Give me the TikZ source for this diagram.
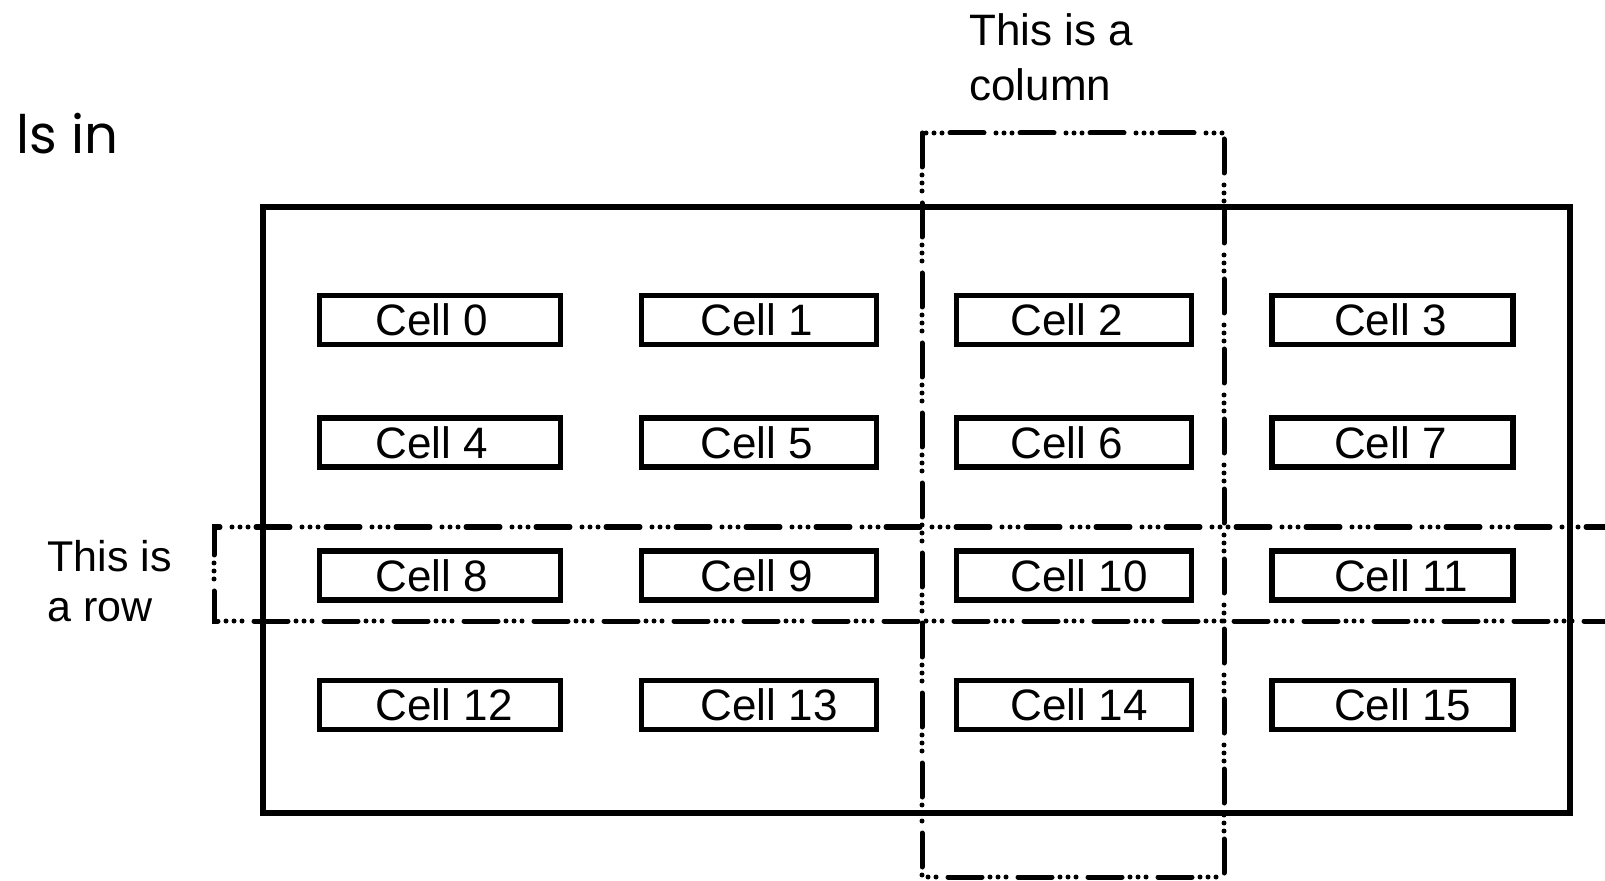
\documentclass[tikz,border=0pt]{standalone}
\usepackage{fontspec}
\setmainfont{Liberation Sans}
\newfontfamily\fragfont{Poppins}

\tikzset{
    cellbox/.style={draw, line width=2.6pt, minimum height=24.5pt, inner sep=0pt},
    celltext/.style={anchor=west, inner sep=0pt, font=\fontsize{22}{26}\selectfont},
    frame/.style={line width=2.6pt},
    selection/.style={line width=2.5pt, line cap=round,
        dash pattern=on 17pt off 4pt on 0pt off 4pt on 0pt off 4pt on 0pt off 6pt},
    note/.style={align=left, inner sep=0pt, anchor=north west},
}

\begin{document}
\begin{tikzpicture}[x=0.5pt, y=-0.5pt]
    \useasboundingbox (0,0) rectangle (1605,881);
    \clip (0,0) rectangle (1605,881);

    % cut-off heading at the left
    \node [anchor=base west, inner sep=0pt, font=\fragfont\fontsize{26.5}{32}\selectfont] (fragment) at (16,154) {ls in};

    % the table and its cells
    \draw [frame] (263,207) rectangle (1570,813);
    \foreach \c/\x/\w/\o in {0/440/120.5/63, 1/759/117.5/66, 2/1074/117.5/61, 3/1392.5/120.5/69}
        \foreach \r/\y in {0/320, 1/442.5, 2/575.5, 3/705} {
            \pgfmathtruncatemacro{\n}{4*\r+\c}
            \pgfmathsetmacro{\shift}{\o/2-2.3}
            \node [cellbox, minimum width=\w pt] (cell\n) at (\x,\y) {};
            \node [celltext] (celltxt\n) at ([xshift=\shift pt]cell\n.west) {Cell \n};
        }

    % a column and a row
    \draw [selection] (922,133) rectangle (1224,877);
    \draw [selection] (1620,527) -- (214,527) -- (214,621) -- (1620,621);

    \node [note, font=\fontsize{22}{27.5}\selectfont] (colnote) at (969,13) {This is a\\column};
    \node [note, font=\fontsize{21.5}{25}\selectfont] (rownote) at (47,540) {This is\\a row};
\end{tikzpicture}
\end{document}
